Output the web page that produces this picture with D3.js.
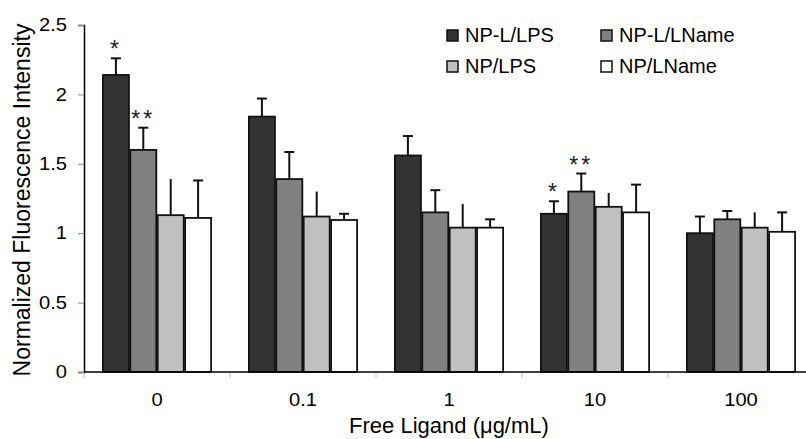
<!DOCTYPE html>
<html>
<head>
<meta charset="utf-8">
<script src="https://cdn.jsdelivr.net/npm/d3@7"></script>
<style>
  body { margin: 0; background: #fff; }
  svg { font-family: "Liberation Sans", Arial, sans-serif; }
</style>
</head>
<body>
<div id="chart"></div>
<script>
// data
const categories = ['0', '0.1', '1', '10', '100'];
const seriesNames = ['NP-L/LPS', 'NP-L/LName', 'NP/LPS', 'NP/LName'];
const seriesColors = ['#333333', '#808080', '#c0c0c0', '#ffffff'];
const means = [
    [2.14, 1.84, 1.56, 1.14, 1.00],
    [1.60, 1.39, 1.15, 1.30, 1.10],
    [1.13, 1.12, 1.04, 1.19, 1.04],
    [1.11, 1.095, 1.04, 1.15, 1.01]
];
const errors = [
    [0.12, 0.13, 0.14, 0.09, 0.12],
    [0.16, 0.195, 0.16, 0.13, 0.06],
    [0.26, 0.18, 0.17, 0.10, 0.11],
    [0.27, 0.045, 0.06, 0.20, 0.14]
];
// significance marks: [series, category, label]
const marks = [[0, 0, '*'], [1, 0, '**'], [0, 3, '*'], [1, 3, '**']];
const yTicks = [0, 0.5, 1, 1.5, 2, 2.5];

let width = 806, height = 439;
let plotLeft = 84, plotRight = 814, plotTop = 25, plotBottom = 372;
let stretch = 1.12; // the original text is a bit wider than normal

let svg = d3.select('#chart').append('svg')
    .attr('width', width)
    .attr('height', height);

let x0 = d3.scaleBand()
    .domain(categories)
    .range([plotLeft, plotRight])
    .paddingInner(0.24)
    .paddingOuter(0.12);
let x1 = d3.scaleBand()
    .domain(d3.range(seriesNames.length))
    .range([0, x0.bandwidth()])
    .padding(0.05);
let y = d3.scaleLinear()
    .domain([0, 2.5])
    .range([plotBottom, plotTop]);

// y axis
let yAxis = svg.append('g')
    .attr('transform', 'translate(' + plotLeft + ',0)')
    .call(d3.axisLeft(y).tickValues(yTicks).tickFormat(d3.format('')).tickSize(6));
yAxis.attr('font-family', null).attr('font-size', null);
yAxis.select('.domain').attr('stroke', '#000').attr('stroke-width', 1.5);
yAxis.selectAll('.tick line').attr('stroke', '#888');
yAxis.selectAll('.tick text')
    .attr('x', -17 / stretch)
    .attr('transform', 'scale(' + stretch + ',1)')
    .style('font-size', '18px')
    .attr('fill', '#000');

// category boundary ticks
let step = x0.step();
let bounds = d3.range(categories.length).map(i => plotLeft + i * step);
svg.selectAll('.xtick')
    .data(bounds)
    .enter().append('line')
    .attr('x1', d => d).attr('x2', d => d)
    .attr('y1', plotBottom).attr('y2', plotBottom + 6)
    .attr('stroke', '#bbb');

svg.selectAll('.xlabel')
    .data(categories)
    .enter().append('text')
    .attr('transform', d => 'translate(' + (x0(d) + x0.bandwidth() / 2) + ',406) scale(' + stretch + ',1)')
    .attr('text-anchor', 'middle')
    .style('font-size', '18px')
    .text(d => d);

// bars
let groups = svg.selectAll('.series')
    .data(seriesNames)
    .enter().append('g');

groups.each(function(name, s) {
    let g = d3.select(this);
    let rows = categories.map((c, i) => ({ c: c, v: means[s][i], e: errors[s][i] }));
    // error bars
    g.selectAll('.err')
        .data(rows)
        .enter().append('line')
        .attr('x1', d => x0(d.c) + x1(s) + x1.bandwidth() / 2)
        .attr('x2', d => x0(d.c) + x1(s) + x1.bandwidth() / 2)
        .attr('y1', d => y(d.v))
        .attr('y2', d => y(d.v + d.e))
        .attr('stroke', '#111')
        .attr('stroke-width', 2);
    if (s !== 2) {
        g.selectAll('.cap')
            .data(rows)
            .enter().append('line')
            .attr('x1', d => x0(d.c) + x1(s) + x1.bandwidth() / 2 - 5)
            .attr('x2', d => x0(d.c) + x1(s) + x1.bandwidth() / 2 + 5)
            .attr('y1', d => y(d.v + d.e))
            .attr('y2', d => y(d.v + d.e))
            .attr('stroke', '#111')
            .attr('stroke-width', 2);
    }
    g.selectAll('rect')
        .data(rows)
        .enter().append('rect')
        .attr('x', d => x0(d.c) + x1(s))
        .attr('y', d => y(d.v))
        .attr('width', x1.bandwidth())
        .attr('height', d => plotBottom - y(d.v))
        .attr('fill', seriesColors[s])
        .attr('stroke', '#111')
        .attr('stroke-width', 1.8);
});

// x axis line
svg.append('line')
    .attr('x1', plotLeft).attr('x2', plotRight)
    .attr('y1', plotBottom).attr('y2', plotBottom)
    .attr('stroke', '#000')
    .attr('stroke-width', 1.5);

// significance stars
svg.selectAll('.star')
    .data(marks)
    .enter().append('text')
    .attr('x', d => x0(categories[d[1]]) + x1(d[0]) + x1.bandwidth() / 2)
    .attr('y', d => y(means[d[0]][d[1]] + errors[d[0]][d[1]]) - 1)
    .attr('text-anchor', 'middle')
    .style('font-size', '23px')
    .style('letter-spacing', '3px')
    .attr('fill', '#222')
    .text(d => d[2]);

// legend
let legend = svg.append('g');
let items = legend.selectAll('.key')
    .data(seriesNames)
    .enter().append('g')
    .attr('transform', (d, i) => 'translate(' + (447 + (i % 2) * 154) + ',' + (30 + Math.floor(i / 2) * 31) + ')');
items.append('rect')
    .attr('width', 11).attr('height', 11)
    .attr('fill', (d, i) => seriesColors[i])
    .attr('stroke', '#111')
    .attr('stroke-width', 1.5);
items.append('text')
    .attr('x', 18)
    .attr('y', 11.5)
    .style('font-size', '20px')
    .text(d => d);

// axis titles
svg.append('text')
    .attr('x', 449)
    .attr('y', 433)
    .attr('text-anchor', 'middle')
    .style('font-size', '22px')
    .text('Free Ligand (μg/mL)');

svg.append('text')
    .attr('transform', 'translate(30,200) rotate(-90)')
    .attr('text-anchor', 'middle')
    .style('font-size', '23px')
    .text('Normalized Fluorescence Intensity');
</script>
</body>
</html>
